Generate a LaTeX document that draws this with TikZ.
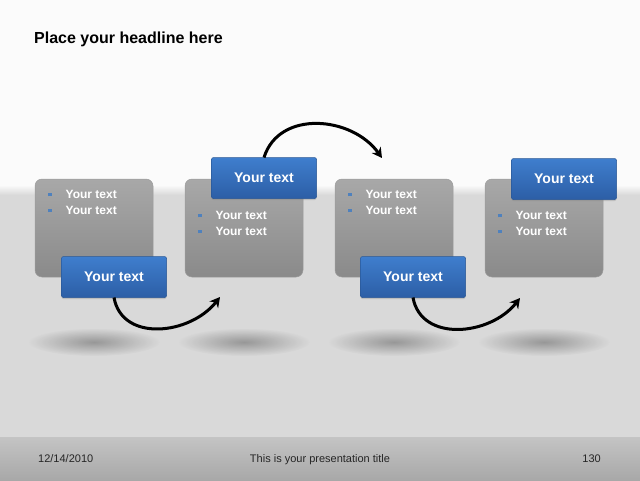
\documentclass[tikz,border=0pt]{standalone}
\usepackage{fontspec}
\setmainfont{Liberation Sans}
\usepackage{tikz}
\usetikzlibrary{arrows.meta,positioning,calc,shadows,fadings}

\definecolor{bgtop}{HTML}{FBFBFB}
\definecolor{bgband}{HTML}{D9D9D9}
\definecolor{foottop}{HTML}{C4C4C4}
\definecolor{footbot}{HTML}{A8A8A8}
\definecolor{paneltop}{HTML}{A8A8A8}
\definecolor{panelbot}{HTML}{8A8A8A}
\definecolor{paneledge}{HTML}{9C9C9C}
\definecolor{tagtop}{HTML}{3F7ECD}
\definecolor{tagbot}{HTML}{2C5EA6}
\definecolor{tagedge}{HTML}{2A5896}
\definecolor{bulletblue}{HTML}{4F81BD}
\definecolor{foottext}{HTML}{262626}

\tikzfading[name=blobfade, inner color=transparent!0, outer color=transparent!100]

\newcommand{\bsq}{\textcolor{bulletblue}{\rule[2.5pt]{3.5pt}{3.5pt}}\hspace{14pt}}

\tikzset{
  panel/.style={rounded corners=7pt, minimum width=118pt, minimum height=98pt, outer sep=0pt,
    top color=paneltop, bottom color=panelbot, draw=paneledge, line width=0.5pt},
  tagbox/.style={rounded corners=2pt, minimum width=105pt, minimum height=41pt, outer sep=0pt,
    top color=tagtop, bottom color=tagbot, draw=tagedge, line width=0.5pt, text=white,
    font=\bfseries\fontsize{14}{16}\selectfont,
    drop shadow={shadow xshift=0pt, shadow yshift=-1.5pt, opacity=0.3}},
  bullets/.style={anchor=north west, inner sep=0pt, align=left, text=white,
    font=\bfseries\fontsize{12}{16}\selectfont},
  swing/.style={line width=3pt, -{Stealth[length=10pt,width=11pt]}},
  floorshadow/.style={black, opacity=0.3, path fading=blobfade},
  foot/.style={font=\fontsize{11}{13}\selectfont, text=foottext, inner sep=0pt}
}

\begin{document}
\begin{tikzpicture}[x=1pt,y=-1pt]
\useasboundingbox (0,0) rectangle (640,480);
\fill[bgband] (0,0) rectangle (640,480);
\fill[bgtop] (0,0) rectangle (640,185);
\shade[top color=bgtop, bottom color=bgband] (0,185) rectangle (640,195);
\shade[top color=foottop, bottom color=footbot] (0,437) rectangle (640,480);

\node[anchor=base west, inner sep=0pt, font=\bfseries\fontsize{16}{19}\selectfont] (title) at (34,43) {Place your headline here};

\node[panel] (g1) at (94,228) {};
\node[panel, right = 32pt of g1] (g2) {};
\node[panel, right = 32pt of g2] (g3) {};
\node[panel, right = 32pt of g3] (g4) {};

\foreach \g in {g1,g2,g3,g4}
  \fill[floorshadow] ($(\g.south)+(0,65)$) ellipse (66pt and 14pt);

\node[bullets] (l1) at ($(g1.north west)+(13,11.5)$) {\bsq Your text\\\bsq Your text};
\node[bullets] (l2) at ($(g2.north west)+(13,32.5)$) {\bsq Your text\\\bsq Your text};
\node[bullets] (l3) at ($(g3.north west)+(13,11.5)$) {\bsq Your text\\\bsq Your text};
\node[bullets] (l4) at ($(g4.north west)+(13,32.5)$) {\bsq Your text\\\bsq Your text};

\node[tagbox] (b1) at ($(g1.south)+(20,0)$) {Your text};
\node[tagbox] (b2) at ($(g2.north)+(20,-1)$) {Your text};
\node[tagbox] (b3) at ($(g3.south)+(19,0)$) {Your text};
\node[tagbox] (b4) at ($(g4.north)+(20,0)$) {Your text};

\coordinate (e1) at ($(g2.south west)+(35,20)$);
\coordinate (e2) at ($(g3.north west)+(47,-21)$);
\coordinate (e3) at ($(g4.south west)+(35,21)$);

\draw[swing] (b1.south) .. controls +(8,45) and +(-30,38) .. (e1);
\draw[swing] (b2.north) .. controls +(15,-48) and +(-30,-42) .. (e2);
\draw[swing] (b3.south) .. controls +(8,45) and +(-30,38) .. (e3);

\node[foot, anchor=base west] (date) at (38,462) {12/14/2010};
\node[foot, anchor=base] (pres) at (320,462) {This is your presentation title};
\node[foot, anchor=base east] (page) at (601,462) {130};
\end{tikzpicture}
\end{document}
